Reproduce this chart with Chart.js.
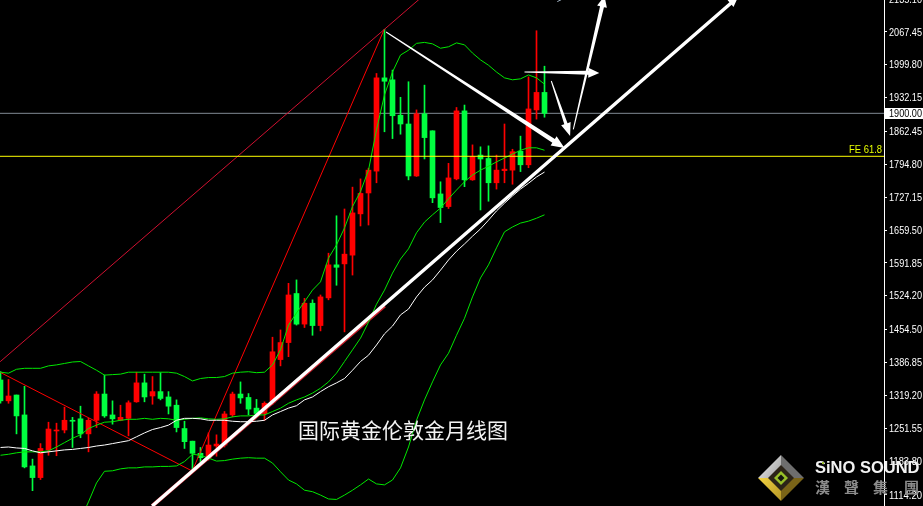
<!DOCTYPE html>
<html>
<head>
<meta charset="utf-8">
<title>国际黄金伦敦金月线图</title>
<script src="https://cdn.jsdelivr.net/npm/chart.js@4/dist/chart.umd.min.js"></script>
<style>
  html, body { margin: 0; padding: 0; background: #000; overflow: hidden; }
  canvas { display: block; }
</style>
</head>
<body>
<canvas id="myChart" width="923" height="506"></canvas>
<script>
const opens = [1351,1308,1320,1279,1174,1150,1207,1246,1248,1268,1271,1240,1268,1322,1279,1268,1272,1306,1345,1318,1327,1316,1299,1251,1225,1200,1190,1215,1217,1279,1322,1315,1293,1282,1304,1393,1428,1529,1466,1509,1463,1520,1588,1590,1608,1693,1736,1781,1973,1969,1896,1878,1771,1899,1864,1734,1708,1765,1905,1763,1814,1807,1757,1782,1783,1822,1794,1907,1943];
const highs = [1368,1352,1320,1338,1188,1220,1264,1262,1295,1274,1297,1272,1327,1361,1308,1299,1308,1367,1363,1358,1366,1327,1310,1266,1225,1212,1242,1238,1286,1326,1347,1323,1311,1306,1439,1454,1550,1557,1519,1516,1526,1612,1689,1703,1748,1765,1787,1982,2073,1989,1933,1965,1907,1958,1864,1759,1797,1912,1917,1835,1831,1833,1814,1878,1826,1853,1975,2070,1997];
const lows = [1303,1303,1240,1170,1123,1146,1196,1195,1242,1212,1232,1203,1253,1274,1260,1267,1236,1305,1306,1301,1310,1281,1244,1210,1164,1179,1186,1194,1213,1275,1303,1279,1279,1268,1300,1380,1399,1464,1459,1443,1452,1516,1546,1450,1567,1668,1670,1757,1862,1848,1857,1763,1770,1806,1716,1675,1704,1763,1749,1762,1701,1719,1744,1757,1754,1780,1788,1888,1892];
const closes = [1308,1318,1277,1172,1150,1210,1250,1248,1268,1266,1240,1268,1322,1277,1271,1274,1304,1345,1316,1327,1313,1297,1253,1224,1200,1191,1217,1219,1281,1322,1314,1291,1282,1303,1409,1428,1526,1466,1509,1463,1522,1588,1583,1610,1695,1735,1783,1973,1966,1895,1878,1771,1899,1850,1726,1706,1767,1905,1763,1811,1806,1757,1783,1785,1821,1794,1909,1943,1900];

const bandUpper = [1367,1365,1373,1375,1375,1375,1380,1382,1385,1388,1389,1380,1371,1361,1362,1363,1367,1367,1367,1367,1367,1367,1365,1358,1349,1354,1356,1356,1358,1365,1367,1368,1366,1367,1382,1413,1464,1489,1512,1536,1553,1602,1629,1664,1708,1739,1783,1866,1938,1985,2020,2030,2044,2046,2043,2034,2037,2045,2041,2024,2010,1999,1985,1973,1969,1971,1979,1973,1960];
const bandMiddle = [1196,1198,1201,1203,1203,1203,1205,1213,1222,1231,1238,1251,1258,1264,1265,1268,1270,1270,1272,1270,1272,1271,1268,1270,1272,1273,1271,1270,1271,1275,1277,1277,1279,1279,1286,1293,1303,1310,1316,1324,1334,1347,1365,1389,1413,1437,1470,1507,1536,1571,1600,1621,1654,1676,1691,1705,1724,1742,1759,1773,1783,1791,1800,1808,1816,1824,1829,1829,1824];
const bandLower = [null,null,null,null,null,null,null,null,null,null,1063,1100,1139,1163,1164,1168,1170,1170,1172,1172,1173,1173,1174,1183,1198,1196,1190,1184,1185,1188,1190,1191,1190,1190,1180,1162,1145,1137,1124,1121,1114,1106,1105,1114,1124,1135,1147,1137,1135,1145,1170,1213,1268,1310,1347,1382,1406,1443,1478,1522,1561,1588,1623,1656,1666,1674,1678,1684,1691];
const slowAverage = [1212,1213,1211,1210,1205,1201,1203,1205,1207,1208,1210,1212,1215,1217,1220,1223,1226,1234,1242,1249,1253,1258,1268,1272,1272,1271,1268,1268,1268,1266,1265,1265,1266,1268,1279,1286,1293,1298,1310,1316,1327,1337,1345,1354,1371,1389,1402,1423,1446,1462,1485,1497,1522,1542,1557,1577,1598,1616,1631,1647,1662,1680,1699,1715,1730,1744,1756,1769,1779];

const priceTicks = [2135.10,2067.45,1999.80,1932.15,1862.45,1794.80,1727.15,1659.50,1591.85,1524.20,1454.50,1386.85,1319.20,1251.55,1183.80,1114.20];
const priceMin = 1091.5;
const priceMax = 2133.3;
const barMin = -0.0625;
const barMax = 110.4375;

const currentPrice = 1900;
const fibPrice = 1811.5;
const fibLabel = "FE 61.8";
const titleText = "国际黄金伦敦金月线图";

// [bar, price] pairs
const fanUpper = [[-0.04,1388.6],[52.46,2136.6]];
const fanSteep = [[23.96,1163.5],[47.96,2072.6]];
const fallLine = [[-0.04,1366.7],[23.96,1163.5]];
const trendUnder = [[18.96,1091.5],[48,1504]];
const stubMark = [[69.6,2130],[70.1,2134]];

const arrowTails = [[18.96,1091.5],[48.2,2067.4],[65.5,1985],[68.85,1966.5],[71.6,1866.7]];
const arrowTips = [[92.2,2139.5],[70.5,1828.6],[74.85,1983],[71.2,1853.3],[75.5,2141.5]];
const arrowStyles = [
  { tail: 3.4, neck: 3.4, head: 9, len: 10 },
  { tail: 1, neck: 4.6, head: 11, len: 13 },
  { tail: 1, neck: 4, head: 10, len: 11 },
  { tail: 1, neck: 3.4, head: 10, len: 13 },
  { tail: 1, neck: 4, head: 10, len: 11 },
];

const RED = "#ff0000";
const GREEN = "#00ff40";
const LINE_GREEN = "#00e800";
const TICK_FONT = "11px 'Liberation Sans'";

function pairs(list) {
  return list.map(function (p) { return { x: p[0], y: p[1] }; });
}

function series(values) {
  return values.map(function (v, i) { return { x: i, y: v }; });
}

function lineSet(data, color, width) {
  return {
    type: "line",
    data: data,
    borderColor: color,
    borderWidth: width,
    pointRadius: 0,
    tension: 0,
    fill: false,
    spanGaps: false,
  };
}

function candleColors() {
  return opens.map(function (o, i) { return closes[i] >= o ? RED : GREEN; });
}

function drawArrow(ctx, x0, y0, x1, y1, s) {
  var dx = x1 - x0, dy = y1 - y0;
  var d = Math.sqrt(dx * dx + dy * dy);
  var ux = dx / d, uy = dy / d, nx = -uy, ny = ux;
  var bx = x1 - ux * s.len, by = y1 - uy * s.len;
  ctx.beginPath();
  ctx.moveTo(x0 + nx * s.tail / 2, y0 + ny * s.tail / 2);
  ctx.lineTo(bx + nx * s.neck / 2, by + ny * s.neck / 2);
  ctx.lineTo(bx + nx * s.head / 2, by + ny * s.head / 2);
  ctx.lineTo(x1, y1);
  ctx.lineTo(bx - nx * s.head / 2, by - ny * s.head / 2);
  ctx.lineTo(bx - nx * s.neck / 2, by - ny * s.neck / 2);
  ctx.lineTo(x0 - nx * s.tail / 2, y0 - ny * s.tail / 2);
  ctx.closePath();
  ctx.fill();
}

function poly(ctx, pts, fill) {
  ctx.beginPath();
  ctx.moveTo(pts[0][0], pts[0][1]);
  for (var i = 1; i < pts.length; ++i) ctx.lineTo(pts[i][0], pts[i][1]);
  ctx.closePath();
  ctx.fillStyle = fill;
  ctx.fill();
}

function drawLogo(ctx) {
  var cx = 781, cy = 478;
  var silver = ctx.createLinearGradient(cx - 23, cy - 23, cx + 10, cy);
  silver.addColorStop(0, "#f4f4f4");
  silver.addColorStop(1, "#8a8a8a");
  poly(ctx, [[cx, cy - 23], [cx - 23, cy], [cx - 12, cy], [cx, cy - 12]], silver);
  poly(ctx, [[cx, cy - 23], [cx + 23, cy], [cx + 12, cy], [cx, cy - 12]], "#6e6e6e");
  var gold = ctx.createLinearGradient(cx - 20, cy, cx + 8, cy + 23);
  gold.addColorStop(0, "#f0d040");
  gold.addColorStop(1, "#a88a20");
  poly(ctx, [[cx, cy + 23], [cx - 23, cy], [cx - 12, cy], [cx, cy + 12]], gold);
  poly(ctx, [[cx, cy + 23], [cx + 23, cy], [cx + 12, cy], [cx, cy + 12]], "#7a6418");
  poly(ctx, [[cx, cy - 13], [cx + 13, cy], [cx, cy + 13], [cx - 13, cy]], "#2c2418");
  poly(ctx, [[cx, cy - 7], [cx + 7, cy], [cx, cy + 7], [cx - 7, cy]], "#98c028");
  poly(ctx, [[cx, cy - 3.5], [cx + 3.5, cy], [cx, cy + 3.5], [cx - 3.5, cy]], "#141410");
}

const overlay = {
  id: "overlay",
  afterDatasetsDraw: function (chart) {
    var ctx = chart.ctx;
    var x = chart.scales.x, y = chart.scales.y;
    ctx.save();
    ctx.fillStyle = "#fff";
    for (var i = 0; i < arrowTails.length; ++i) {
      drawArrow(ctx,
        x.getPixelForValue(arrowTails[i][0]), y.getPixelForValue(arrowTails[i][1]),
        x.getPixelForValue(arrowTips[i][0]), y.getPixelForValue(arrowTips[i][1]),
        arrowStyles[i]);
    }
    ctx.restore();
  },
  afterDraw: function (chart) {
    var ctx = chart.ctx;
    var y = chart.scales.y;
    ctx.save();
    ctx.textBaseline = "middle";
    ctx.textAlign = "left";

    // the terminal's tick font is narrower than anything installed, so squeeze to 33px
    ctx.font = TICK_FONT;
    ctx.fillStyle = "#fff";
    priceTicks.forEach(function (v) {
      ctx.fillText(v.toFixed(2), 889, y.getPixelForValue(v) + 0.5, 33);
    });

    var py = Math.round(y.getPixelForValue(currentPrice));
    ctx.fillStyle = "#fff";
    ctx.fillRect(885, py - 5, 38, 11);
    ctx.fillStyle = "#000";
    ctx.fillText(currentPrice.toFixed(2), 889, py + 0.5, 33);

    ctx.fillStyle = "#e8ff00";
    ctx.fillText(fibLabel, 849, y.getPixelForValue(fibPrice) - 6, 33);

    ctx.fillStyle = "#f4f4f4";
    ctx.font = "21px 'Noto Sans CJK SC'";
    ctx.fillText(titleText, 298, 430);

    drawLogo(ctx);
    ctx.fillStyle = "#f2f2f2";
    ctx.font = "bold 16.5px 'Liberation Sans'";
    ctx.fillText("SiNO SOUND", 815, 468);
    ctx.fillStyle = "#9ac030";
    ctx.fillRect(822, 462, 2, 2);
    ctx.fillStyle = "#8c8c8c";
    ctx.font = "bold 15px 'Noto Sans CJK TC'";
    ctx.fillText("漢", 815, 487);
    ctx.fillText("聲", 844, 487);
    ctx.fillText("集", 873, 487);
    ctx.fillText("團", 904, 487);
    ctx.restore();
  },
};

var wicks = opens.map(function (o, i) { return { x: i, y: [lows[i], highs[i]] }; });
var bodies = opens.map(function (o, i) { return { x: i, y: [o, closes[i]] }; });

new Chart(document.getElementById("myChart").getContext("2d"), {
  type: "bar",
  data: {
    datasets: [
      lineSet([{ x: barMin, y: fibPrice }, { x: barMax, y: fibPrice }], "#ffff00", 1),
      lineSet(series(slowAverage), "#ffffff", 1),
      lineSet(series(bandUpper), LINE_GREEN, 1),
      lineSet(series(bandMiddle), LINE_GREEN, 1),
      lineSet(series(bandLower), LINE_GREEN, 1),
      lineSet(pairs(trendUnder), "#c8202c", 4),
      lineSet(pairs(fanUpper), "#d01030", 1),
      lineSet(pairs(fanSteep), RED, 1),
      lineSet(pairs(fallLine), RED, 1),
      lineSet(pairs(stubMark), "#9fb0c0", 1),
      { type: "bar", data: bodies, backgroundColor: candleColors(), barThickness: 5, grouped: false, borderWidth: 0 },
      { type: "bar", data: wicks, backgroundColor: candleColors(), barThickness: 1, grouped: false, borderWidth: 0 },
      lineSet([{ x: barMin, y: currentPrice }, { x: barMax, y: currentPrice }], "#808a94", 1),
    ],
  },
  options: {
    responsive: false,
    animation: false,
    events: [],
    layout: { padding: 0 },
    plugins: { legend: { display: false }, tooltip: { enabled: false }, title: { display: false } },
    scales: {
      x: {
        type: "linear",
        display: false,
        offset: false,
        min: barMin,
        max: barMax,
        grid: { display: false },
      },
      y: {
        type: "linear",
        position: "right",
        min: priceMin,
        max: priceMax,
        afterBuildTicks: function (axis) {
          axis.ticks = priceTicks.map(function (v) { return { value: v }; });
        },
        afterFit: function (axis) {
          axis.width = 39;
          axis.paddingTop = 0;
          axis.paddingBottom = 0;
        },
        border: { display: true, color: "#fff", width: 1 },
        grid: { display: true, drawOnChartArea: false, drawTicks: true, tickLength: 3, tickColor: "#fff" },
        ticks: { display: false, autoSkip: false },
      },
    },
  },
  plugins: [overlay],
});
</script>
</body>
</html>
